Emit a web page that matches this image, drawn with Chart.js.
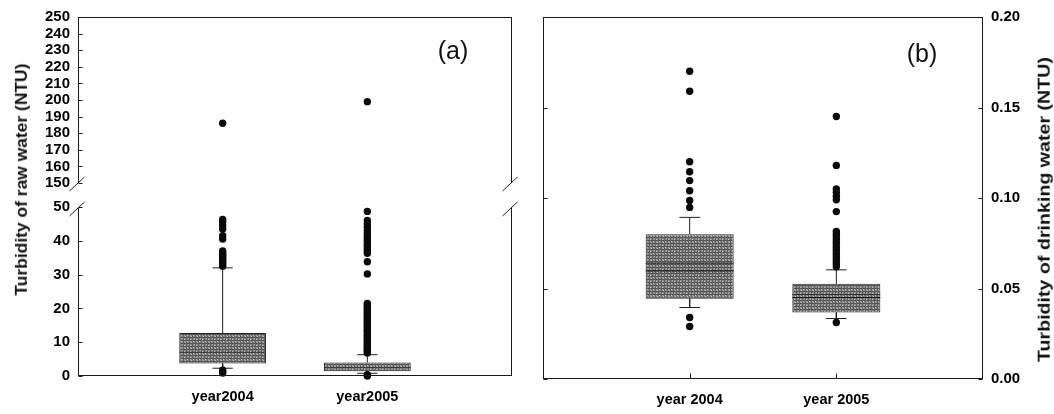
<!DOCTYPE html>
<html>
<head>
<meta charset="utf-8">
<script src="https://cdn.jsdelivr.net/npm/chart.js@4.4.1/dist/chart.umd.min.js"></script>
<style>
  html, body { margin: 0; padding: 0; background: #ffffff; width: 1054px; height: 414px; overflow: hidden; }
  canvas { position: absolute; }
  .txt { position: absolute; white-space: nowrap; color: #111; font-family: 'Liberation Sans', Arial, Helvetica, sans-serif; }
</style>
</head>
<body>
<canvas id="cA1" width="520" height="200" style="left:0px;top:0px"></canvas>
<canvas id="cA2" width="520" height="224" style="left:0px;top:190px"></canvas>
<canvas id="cB" width="534" height="414" style="left:520px;top:0px"></canvas>
<div class="txt" id="titleA"></div>
<div class="txt" id="titleB"></div>
<div class="txt" id="tagA">(a)</div>
<div class="txt" id="tagB">(b)</div>
<script>
// ---------------- data ----------------
const categoriesA = ['year2004', 'year2005'];
const categoriesB = ['year 2004', 'year 2005'];
const categoryPositions = [1, 2];

const yTicksATop = [150, 160, 170, 180, 190, 200, 210, 220, 230, 240, 250];
const yTicksABottom = [0, 10, 20, 30, 40, 50];
const yTicksB = [0, 0.05, 0.10, 0.15, 0.20];
const yTickLabelsB = ['0.00', '0.05', '0.10', '0.15', '0.20'];

const titleAText = 'Turbidity of raw water (NTU)';
const titleBText = 'Turbidity of drinking water (NTU)';

// panel (a): raw water turbidity, NTU
const rawQ1 = [3.7, 1.4];
const rawMedian = [7.0, 2.5];
const rawQ3 = [12.7, 4.0];
const rawLowWhisker = [2.3, 0.8];
const rawHighWhisker = [32.0, 6.3];
const rawOutliers2004 = [0.9, 1.3, 1.7, 32.5, 33, 33.5, 34, 34.5, 35, 35.5, 36, 36.5, 37,
  40.5, 41.5, 43.5, 44.5, 45.5, 46.3, 186];
const rawOutliers2005 = [0, 0.4, 6.8, 7.2, 7.6, 8, 8.5, 9, 9.5, 10, 10.5, 11, 11.5, 12, 12.5,
  13, 13.5, 14, 14.5, 15, 15.5, 16, 16.5, 17, 17.5, 18, 18.5, 19, 19.5, 20, 20.5, 21, 21.5,
  30.2, 33.8, 36.3, 37, 37.6, 38.3, 39, 39.8, 40.5, 41.2, 42, 43, 44, 45, 46, 48.7, 199];

// panel (b): drinking water turbidity, NTU
const drinkQ1 = [0.0444, 0.0367];
const drinkMedian = [0.0597, 0.0450];
const drinkMean = [0.0640, 0.0466];
const drinkQ3 = [0.0800, 0.0526];
const drinkLowWhisker = [0.0395, 0.0334];
const drinkHighWhisker = [0.0893, 0.0603];
const drinkOutliers2004 = [0.029, 0.034, 0.0948, 0.0986, 0.104, 0.1096, 0.1145, 0.120, 0.159, 0.170];
const drinkOutliers2005 = [0.0312, 0.062, 0.0635, 0.065, 0.0665, 0.068, 0.0695, 0.071, 0.0725,
  0.074, 0.0755, 0.077, 0.0785, 0.080, 0.0815, 0.0925, 0.099, 0.101, 0.103, 0.105, 0.118, 0.145];

// ---------------- helpers ----------------
const FONT = "'Liberation Sans', Arial, Helvetica, sans-serif";
Chart.defaults.font.family = FONT;
Chart.defaults.color = '#000';

function makePattern() {
  const c = document.createElement('canvas');
  c.width = 6; c.height = 6;
  const g = c.getContext('2d');
  g.fillStyle = '#8a8a8a'; g.fillRect(0, 0, 6, 6);
  g.fillStyle = '#505050'; g.fillRect(0, 0, 6, 1); g.fillRect(0, 3, 6, 1);
  g.fillStyle = '#606060'; g.fillRect(0, 0, 1, 6); g.fillRect(3, 0, 1, 6);
  g.fillStyle = '#c4c4c4'; g.fillRect(1, 1, 1, 1); g.fillRect(4, 5, 1, 1); g.fillRect(5, 2, 1, 1);
  g.fillStyle = '#a8a8a8'; g.fillRect(2, 4, 1, 1); g.fillRect(4, 1, 1, 1);
  return g.createPattern(c, 'repeat');
}
const boxFill = makePattern();

function boxDataset(q1, q3) {
  return {
    type: 'bar', order: 4,
    data: categoryPositions.map((x, i) => ({ x: x, y: [q1[i], q3[i]] })),
    backgroundColor: boxFill, borderColor: '#222222', borderWidth: 1, borderSkipped: false,
    barPercentage: 0.6, categoryPercentage: 1.0
  };
}
function whiskerDataset(q1, q3, lo, hi) {
  const cap = 0.07, d = [];
  categoryPositions.forEach((x, i) => {
    d.push({ x: x, y: q3[i] }, { x: x, y: hi[i] }, { x: x, y: null });
    d.push({ x: x - cap, y: hi[i] }, { x: x + cap, y: hi[i] }, { x: x, y: null });
    d.push({ x: x, y: q1[i] }, { x: x, y: lo[i] }, { x: x, y: null });
    d.push({ x: x - cap, y: lo[i] }, { x: x + cap, y: lo[i] }, { x: x, y: null });
  });
  return { type: 'line', order: 3, data: d, borderColor: '#1e1e1e', borderWidth: 1,
    pointRadius: 0, spanGaps: false, tension: 0, fill: false };
}
function lineAcrossDataset(vals, color) {
  const half = 0.3, d = [];
  categoryPositions.forEach((x, i) => {
    d.push({ x: x - half, y: vals[i] }, { x: x + half, y: vals[i] }, { x: x, y: null });
  });
  return { type: 'line', order: 2, data: d, borderColor: color, borderWidth: 1,
    pointRadius: 0, spanGaps: false, tension: 0, fill: false };
}
function pointsDataset(lists, keep) {
  const d = [];
  lists.forEach((vals, i) => vals.filter(keep).forEach(v => d.push({ x: categoryPositions[i], y: v })));
  return { type: 'scatter', order: 1, data: d, showLine: false, pointRadius: 3.7,
    pointBackgroundColor: '#0a0a0a', pointBorderWidth: 0, clip: false };
}

const framePlugin = {
  id: 'frame',
  afterDraw(chart, args, o) {
    if (!o || !o.sides) return;
    const ctx = chart.ctx, a = chart.chartArea;
    const L = Math.round(a.left) + 0.5, R = Math.round(a.right) - 0.5;
    const T = Math.round(a.top) + 0.5, B = Math.round(a.bottom) - 0.5;
    ctx.save();
    ctx.strokeStyle = '#1a1a1a';
    ctx.lineWidth = 1;
    ctx.beginPath();
    if (o.sides.includes('top')) { ctx.moveTo(L - 0.5, T); ctx.lineTo(R + 0.5, T); }
    if (o.sides.includes('bottom')) { ctx.moveTo(L - 0.5, B); ctx.lineTo(R + 0.5, B); }
    if (o.sides.includes('left')) { ctx.moveTo(L, T - 0.5); ctx.lineTo(L, B + 0.5); }
    if (o.sides.includes('right')) { ctx.moveTo(R, T - 0.5); ctx.lineTo(R, B + 0.5); }
    // inward tick marks
    if (o.yTicks) {
      const sc = chart.scales[o.yTicks.axis];
      sc.ticks.forEach(tk => {
        const y = Math.round(sc.getPixelForValue(tk.value)) + 0.5;
        if (o.yTicks.left) { ctx.moveTo(L, y); ctx.lineTo(L + o.yTicks.len, y); }
        if (o.yTicks.right) { ctx.moveTo(R, y); ctx.lineTo(R - o.yTicks.len, y); }
      });
    }
    if (o.xTicks) {
      const sc = chart.scales.x;
      sc.ticks.forEach(tk => {
        const x = Math.round(sc.getPixelForValue(tk.value)) + 0.5;
        ctx.moveTo(x, B); ctx.lineTo(x, B - o.xTicks.len);
      });
    }
    // axis-break slashes
    if (o.breakAt) {
      const yb = o.breakAt === 'bottom' ? B : T;
      [L, R].forEach(x => { ctx.moveTo(x - 9, yb + 8.5); ctx.lineTo(x + 6, yb - 5.5); });
    }
    ctx.stroke();
    ctx.restore();
  }
};

const tickFont = { size: 15, weight: 'bold' };
const catFont = { size: 14.5, weight: 'bold' };
const baseOpts = { responsive: false, animation: false, events: [] };
const noPlugins = { legend: { display: false }, tooltip: { enabled: false } };

function yAxis(min, max, ticksArr, labelFn, extra) {
  return Object.assign({
    type: 'linear', min: min, max: max,
    afterBuildTicks: s => { s.ticks = ticksArr.map(v => ({ value: v })); },
    grid: { display: false, drawTicks: false }, border: { display: false },
    ticks: { autoSkip: false, padding: 8, font: tickFont, color: '#000',
      callback: (v, i) => labelFn(v, i) }
  }, extra);
}
function xAxis(labels, height, show) {
  return {
    type: 'linear', min: 0, max: 3, offset: false, display: show,
    afterBuildTicks: s => { s.ticks = categoryPositions.map(v => ({ value: v })); },
    afterFit: s => { s.height = height; },
    grid: { display: false, drawTicks: false, offset: false }, border: { display: false },
    ticks: { autoSkip: false, maxRotation: 0, padding: 12, font: catFont, color: '#000',
      callback: v => labels[categoryPositions.indexOf(v)] }
  };
}

// ---------------- panel (a), upper segment ----------------
new Chart(document.getElementById('cA1'), {
  type: 'scatter',
  data: { datasets: [pointsDataset([rawOutliers2004, rawOutliers2005], v => v >= 150)] },
  options: Object.assign({}, baseOpts, {
    layout: { padding: { top: 14, bottom: 16, left: 0, right: 8 } },
    plugins: Object.assign({}, noPlugins, {
      frame: { sides: ['top', 'left', 'right'], breakAt: 'bottom', yTicks: { axis: 'y', len: 4, left: true } }
    }),
    scales: {
      x: xAxis(categoriesA, 0, false),
      y: yAxis(150, 250, yTicksATop, v => String(v), { afterFit: s => { s.width = 78; } })
    }
  }),
  plugins: [framePlugin]
});

// ---------------- panel (a), lower segment ----------------
new Chart(document.getElementById('cA2'), {
  type: 'scatter',
  data: { datasets: [
    boxDataset(rawQ1, rawQ3),
    whiskerDataset(rawQ1, rawQ3, rawLowWhisker, rawHighWhisker),
    lineAcrossDataset(rawMedian, '#3a3a3a'),
    pointsDataset([rawOutliers2004, rawOutliers2005], v => v <= 50)
  ] },
  options: Object.assign({}, baseOpts, {
    layout: { padding: { top: 12, bottom: 0, left: 0, right: 8 } },
    plugins: Object.assign({}, noPlugins, {
      frame: { sides: ['bottom', 'left', 'right'], breakAt: 'top', yTicks: { axis: 'y', len: 4, left: true } }
    }),
    scales: {
      x: xAxis(categoriesA, 38, true),
      y: yAxis(0, 50, yTicksABottom, v => String(v), { afterFit: s => { s.width = 78; } })
    }
  }),
  plugins: [framePlugin]
});

// ---------------- panel (b) ----------------
new Chart(document.getElementById('cB'), {
  type: 'scatter',
  data: { datasets: [
    boxDataset(drinkQ1, drinkQ3),
    whiskerDataset(drinkQ1, drinkQ3, drinkLowWhisker, drinkHighWhisker),
    lineAcrossDataset(drinkMedian, '#111111'),
    lineAcrossDataset(drinkMean, '#2a2a2a'),
    pointsDataset([drinkOutliers2004, drinkOutliers2005], v => true)
  ] },
  options: Object.assign({}, baseOpts, {
    layout: { padding: { top: 14, bottom: 0, left: 23, right: 0 } },
    plugins: Object.assign({}, noPlugins, {
      frame: { sides: ['top', 'bottom', 'left', 'right'],
        yTicks: { axis: 'y', len: 4, left: true, right: true }, xTicks: { len: 5 } }
    }),
    scales: {
      x: xAxis(categoriesB, 35, true),
      y: yAxis(0, 0.2, yTicksB, (v, i) => yTickLabelsB[i],
        { position: 'right', afterFit: s => { s.width = 71; } })
    }
  }),
  plugins: [framePlugin]
});

// ---------------- text outside the plot areas ----------------
function placeRotated(id, text, cx, cy, len, size) {
  const el = document.getElementById(id);
  const font = 'bold ' + size + 'px ' + FONT;
  el.textContent = text;
  el.style.font = font;
  const m = document.createElement('canvas').getContext('2d');
  m.font = font;
  const w = m.measureText(text).width;
  const h = size * 1.2;
  el.style.width = w + 'px';
  el.style.height = h + 'px';
  el.style.lineHeight = h + 'px';
  el.style.left = (cx - w / 2) + 'px';
  el.style.top = (cy - h / 2) + 'px';
  el.style.transformOrigin = '50% 50%';
  el.style.transform = 'rotate(-90deg) scaleX(' + (len / w) + ')';
}
placeRotated('titleA', titleAText, 22, 180, 232, 16);
placeRotated('titleB', titleBText, 1044, 210, 305, 16);

function placeTag(id, cx, cy, size) {
  const el = document.getElementById(id);
  el.style.font = size + 'px ' + FONT;
  const m = document.createElement('canvas').getContext('2d');
  m.font = el.style.font;
  const w = m.measureText(el.textContent).width;
  el.style.lineHeight = (size * 1.2) + 'px';
  el.style.left = (cx - w / 2) + 'px';
  el.style.top = (cy - size * 0.6) + 'px';
}
placeTag('tagA', 453, 50, 25);
placeTag('tagB', 922, 53, 25);
</script>
</body>
</html>
